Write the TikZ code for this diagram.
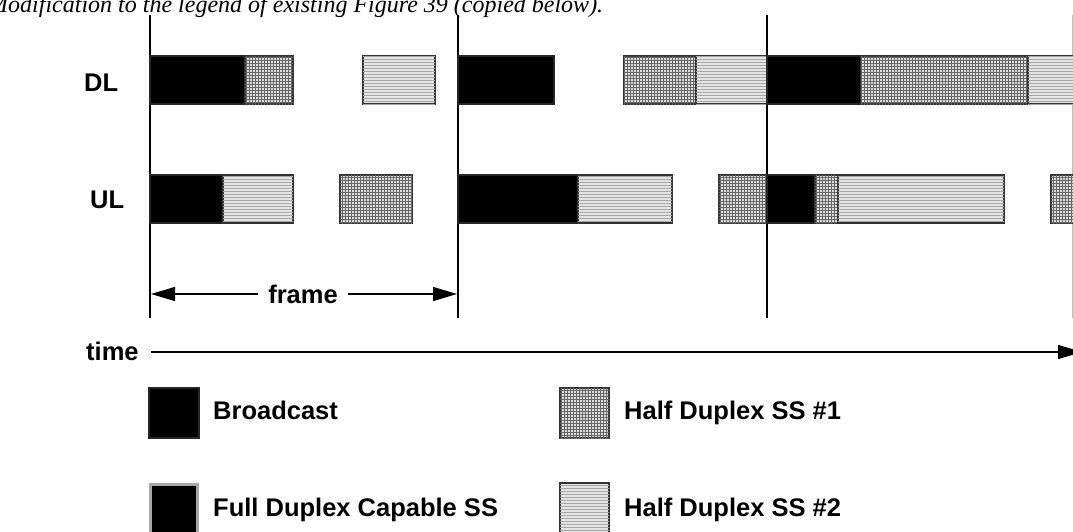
\documentclass[tikz,border=0pt]{standalone}
\usepackage{fontspec}
\setmainfont{Liberation Sans}
\newfontfamily\titlefont{Liberation Serif}
\usetikzlibrary{patterns,arrows.meta}
\begin{document}
\begin{tikzpicture}[x=1pt,y=-1pt,
  lbl/.style={font=\fontsize{25.5}{28}\selectfont\bfseries, inner sep=0pt},
  bc/.style={fill=black, draw=black!85, line width=1.2pt},
  hdone/.style={fill=gray!25, draw=black!80, line width=1.2pt, postaction={pattern=grid, pattern color=black!60}},
  hdtwo/.style={fill=gray!20, draw=black!80, line width=1.2pt, postaction={pattern=horizontal lines, pattern color=gray!70}},
  fdc/.style={fill=black, draw=gray!70, line width=3pt},
  frameline/.style={line width=2.2pt, black},
  arr/.style={-{Triangle[length=24pt,width=14pt]}, line width=1.3pt}
]
\useasboundingbox (0,0) rectangle (1073,531);
\clip (0,0) rectangle (1073,531);

% title (cropped at the top, as in the source)
\node[anchor=base west, inner sep=0pt, font=\titlefont\itshape\fontsize{24}{26}\selectfont] (title) at (-12,12) {Modification to the legend of existing Figure 39 (copied below).};

% frame boundaries
\draw[frameline] (150,15) -- (150,318);
\draw[frameline] (458,15) -- (458,318);
\draw[frameline] (767,15) -- (767,318);
\draw[line width=1pt, gray!50] (1072,15) -- (1072,318);

% DL row
\node[lbl, anchor=base west] (dl) at (84,91) {DL};
\path[bc] (150,56) rectangle (245,104);
\path[hdone] (245,56) rectangle (293,104);
\path[hdtwo] (363,56) rectangle (435,104);
\path[bc] (458,56) rectangle (554,104);
\path[hdone] (624,56) rectangle (696,104);
\path[hdtwo] (696,56) rectangle (767,104);
\path[bc] (767,56) rectangle (861,104);
\path[hdone] (861,56) rectangle (1028,104);
\path[hdtwo] (1028,56) rectangle (1080,104);

% UL row
\node[lbl, anchor=base west] (ul) at (90,208) {UL};
\path[bc] (150,175) rectangle (223,223);
\path[hdtwo] (223,175) rectangle (293,223);
\path[hdone] (340,175) rectangle (412,223);
\path[bc] (458,175) rectangle (578,223);
\path[hdtwo] (578,175) rectangle (672,223);
\path[hdone] (719,175) rectangle (767,223);
\path[bc] (767,175) rectangle (815,223);
\path[hdone] (815,175) rectangle (838,223);
\path[hdtwo] (838,175) rectangle (1004,223);
\path[hdone] (1051,175) rectangle (1080,223);

% frame arrow
\coordinate (fl) at (151,294);
\coordinate (fr) at (457,294);
\node[lbl] (frame) at (303,294) {frame};
\draw[arr] (frame.west) ++(-10,0) -- (fl);
\draw[arr] (frame.east) ++(10,0) -- (fr);

% time axis
\node[lbl, anchor=west] (time) at (86,351) {time};
\coordinate (tend) at (1082,352);
\draw[arr] (time.east) ++(12,1) -- (tend);

% legend
\path[bc] (149,388) rectangle (199,438);
\node[lbl, anchor=base west] (lb) at (213,419) {Broadcast};
\path[fdc] (150.5,484.5) rectangle (197.5,535);
\node[lbl, anchor=base west] (lf) at (213,516) {Full Duplex Capable SS};
\path[hdone] (560,388) rectangle (609,438);
\node[lbl, anchor=base west] (l1) at (624,419) {Half Duplex SS \#1};
\path[hdtwo] (560,483) rectangle (609,535);
\node[lbl, anchor=base west] (l2) at (624,516) {Half Duplex SS \#2};
\end{tikzpicture}
\end{document}
